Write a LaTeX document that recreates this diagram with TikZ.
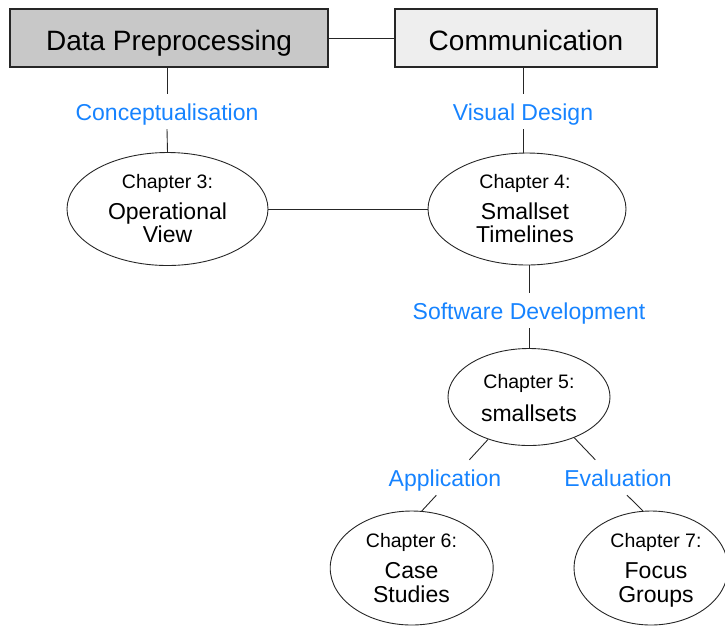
\documentclass[tikz,border=0pt]{standalone}
\usepackage{fontspec}
\setmainfont{Liberation Sans}
\usetikzlibrary{shapes.geometric}
\definecolor{lblblue}{RGB}{22,131,255}
\definecolor{dpgray}{RGB}{200,200,200}
\definecolor{comgray}{RGB}{238,238,238}
\tikzset{
  topbox/.style={draw=black!85, line width=1.1pt, inner sep=0pt, text height=27pt, text depth=3pt,
    font=\fontsize{28}{32}\selectfont},
  lbl/.style={text=lblblue, anchor=base, inner ysep=4pt, inner xsep=4pt, text height=22pt, text depth=5pt,
    font=\fontsize{23}{27}\selectfont},
  chap/.style={draw=black!85, line width=0.9pt, ellipse, inner sep=0pt},
  chaptitle/.style={anchor=base, inner sep=0pt, font=\fontsize{19.5}{22}\selectfont},
  chaptext/.style={anchor=base, inner sep=0pt, font=\fontsize{23}{26}\selectfont},
  conn/.style={draw=black!85, line width=0.9pt}
}
\begin{document}
\begin{tikzpicture}[x=1pt,y=-1pt]
\useasboundingbox (0,0) rectangle (725,625);
% top boxes
\node[topbox, fill=dpgray, minimum width=318pt, minimum height=58pt] (dp) at (169,38) {Data Preprocessing};
\node[topbox, fill=comgray, minimum width=262pt, minimum height=58pt] (com) at (526,38) {Communication};
% labels
\node[lbl] (concept) at (167,120) {Conceptualisation};
\node[lbl] (vis) at (523,120) {Visual Design};
\node[lbl] (soft) at (529,319) {Software Development};
\node[lbl] (app) at (445,486) {Application};
\node[lbl] (eval) at (618,486) {Evaluation};
% ellipses
\node[chap, minimum width=201pt, minimum height=113pt] (ch3) at (167.5,209) {};
\node[chap, minimum width=198pt, minimum height=112pt] (ch4) at (527,209) {};
\node[chap, minimum width=162pt, minimum height=97pt] (ch5) at (529,397) {};
\node[chap, minimum width=163pt, minimum height=114pt] (ch6) at (411.7,568) {};
\node[chap, minimum width=154pt, minimum height=114pt] (ch7) at (651,568) {};
% ellipse texts
\node[chaptitle] (t3a) at (167.5,188) {Chapter 3:};
\node[chaptext] (t3b) at (167.5,219) {Operational};
\node[chaptext] (t3c) at (167.5,242) {View};
\node[chaptitle] (t4a) at (525,188) {Chapter 4:};
\node[chaptext] (t4b) at (525,219) {Smallset};
\node[chaptext] (t4c) at (525,242) {Timelines};
\node[chaptitle] (t5a) at (529,388) {Chapter 5:};
\node[chaptext] (t5b) at (529,421) {smallsets};
\node[chaptitle] (t6a) at (411.5,547) {Chapter 6:};
\node[chaptext] (t6b) at (411.5,578) {Case};
\node[chaptext] (t6c) at (411.5,602) {Studies};
\node[chaptitle] (t7a) at (656,547) {Chapter 7:};
\node[chaptext] (t7b) at (656,578) {Focus};
\node[chaptext] (t7c) at (656,602) {Groups};
% connectors
\draw[conn] (dp.east) -- (com.west);
\draw[conn] (concept.north |- dp.south) -- (concept.north);
\draw[conn] (concept.south) -- (ch3.north);
\draw[conn] (vis.north |- com.south) -- (vis.north);
\draw[conn] (vis.south) -- (vis.south |- ch4.north);
\draw[conn] (ch3.east) -- (ch4.west);
\draw[conn] (soft.north |- ch4.south) -- (soft.north);
\draw[conn] (soft.south) -- (ch5.north);
\draw[conn] (ch5.226.6) -- (app.36);
\draw[conn] (app.244) -- (ch6.80);
\draw[conn] (ch5.318.5) -- (eval.142.6);
\draw[conn] (eval.297) -- (ch7.98);
\end{tikzpicture}
\end{document}
